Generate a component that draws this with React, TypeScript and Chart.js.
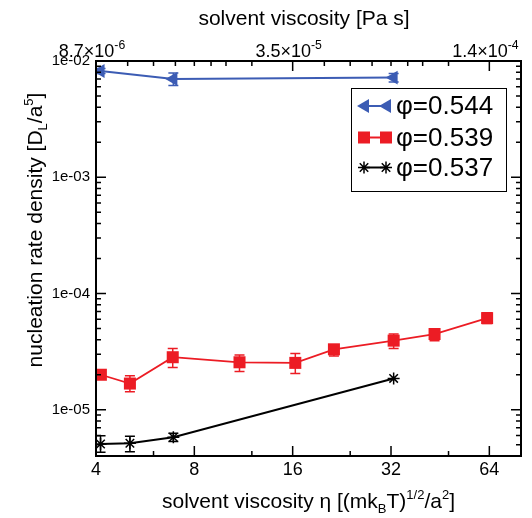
import React, { useEffect, useRef } from 'react';
import { Chart, registerables } from 'chart.js';

Chart.register(...registerables);

const FONT = '"Liberation Sans", Arial, Helvetica, sans-serif';
const BLUE = '#3c5cb4';
const RED = '#ec1c24';
const BLACK = '#000000';

// bottom axis ticks (η in (m k_B T)^{1/2}/a^2)
const xTicks = [4, 8, 16, 32, 64];
const xMinor = [6, 12, 24, 48];
// top axis (solvent viscosity, Pa s) — placed at the η positions
const topTicks = [4, 16, 64];
const topMant = ['8.7', '3.5', '1.4'];
const topExp = ['-6', '-5', '-4'];
const topMinor = [5, 6, 7, 8, 9, 10, 12, 20, 24, 28, 32, 36, 40, 48];
// y axis
const yDecades = [1e-5, 1e-4, 1e-3, 1e-2];
const yLabels = ['1e-05', '1e-04', '1e-03', '1e-02'];

// φ = 0.544
const blueX = [4.13, 6.9, 32.6];
const blueY = [8.2e-3, 7.0e-3, 7.2e-3];
const blueLo = [7.8e-3, 6.15e-3, 6.6e-3];
const blueHi = [8.6e-3, 7.9e-3, 7.8e-3];

// φ = 0.539
const redX = [4.14, 5.08, 6.87, 11.0, 16.3, 21.4, 32.6, 43.5, 63];
const redY = [2.0e-5, 1.68e-5, 2.83e-5, 2.56e-5, 2.53e-5, 3.31e-5, 3.93e-5, 4.48e-5, 6.14e-5];
const redLo = [1.9e-5, 1.43e-5, 2.31e-5, 2.13e-5, 2.05e-5, 2.9e-5, 3.36e-5, 3.93e-5, 5.53e-5];
const redHi = [2.1e-5, 1.96e-5, 3.36e-5, 2.96e-5, 3.04e-5, 3.6e-5, 4.48e-5, 4.98e-5, 6.84e-5];

// φ = 0.537
const blackX = [4.13, 5.08, 6.9, 32.6];
const blackY = [5.08e-6, 5.15e-6, 5.8e-6, 1.86e-5];
const blackLo = [4.3e-6, 4.36e-6, 5.32e-6, 1.86e-5];
const blackHi = [5.98e-6, 5.91e-6, 6.28e-6, 1.86e-5];

const legendLabels = ['φ=0.544', 'φ=0.539', 'φ=0.537'];

type Seg = { t: string; k?: 'sup' | 'sub' };

function drawRich(ctx: CanvasRenderingContext2D, segs: Seg[], x: number, y: number, size: number, align: 'center' | 'left', small = 0.62) {
  const sz = (s: Seg) => (s.k ? size * small : size);
  let w = 0;
  for (const s of segs) {
    ctx.font = `${sz(s)}px ${FONT}`;
    w += ctx.measureText(s.t).width;
  }
  let cx = align === 'center' ? x - w / 2 : x;
  ctx.textAlign = 'left';
  ctx.textBaseline = 'alphabetic';
  for (const s of segs) {
    ctx.font = `${sz(s)}px ${FONT}`;
    const dy = s.k === 'sup' ? -size * 0.42 : s.k === 'sub' ? size * 0.25 : 0;
    ctx.fillText(s.t, cx, y + dy);
    cx += ctx.measureText(s.t).width;
  }
}

function marker(ctx: CanvasRenderingContext2D, kind: string, x: number, y: number, color: string) {
  ctx.save();
  ctx.fillStyle = color;
  ctx.strokeStyle = color;
  ctx.lineWidth = 1.5;
  if (kind === 'tri') {
    const r = 8;
    ctx.beginPath();
    ctx.moveTo(x - r, y);
    ctx.lineTo(x + r / 2, y - r * 0.866);
    ctx.lineTo(x + r / 2, y + r * 0.866);
    ctx.closePath();
    ctx.fill();
  } else if (kind === 'rect') {
    ctx.fillRect(x - 6, y - 6, 12, 12);
  } else {
    const r = 6;
    ctx.beginPath();
    for (let i = 0; i < 4; i++) {
      const a = (i * Math.PI) / 4;
      ctx.moveTo(x - Math.cos(a) * r, y - Math.sin(a) * r);
      ctx.lineTo(x + Math.cos(a) * r, y + Math.sin(a) * r);
    }
    ctx.stroke();
  }
  ctx.restore();
}

const errorBarPlugin = {
  id: 'errbars',
  beforeDatasetsDraw(chart: any) {
    const ctx = chart.ctx as CanvasRenderingContext2D;
    const ys = chart.scales.y;
    chart.data.datasets.forEach((ds: any, di: number) => {
      const meta = chart.getDatasetMeta(di);
      ctx.save();
      ctx.strokeStyle = ds.borderColor;
      ctx.lineWidth = 1.5;
      meta.data.forEach((pt: any, i: number) => {
        const lo = ys.getPixelForValue(ds.errLo[i]);
        const hi = ys.getPixelForValue(ds.errHi[i]);
        if (Math.abs(lo - hi) < 1) return;
        const x = pt.x;
        ctx.beginPath();
        ctx.moveTo(x, lo);
        ctx.lineTo(x, hi);
        ctx.moveTo(x - 5, lo);
        ctx.lineTo(x + 5, lo);
        ctx.moveTo(x - 5, hi);
        ctx.lineTo(x + 5, hi);
        ctx.stroke();
      });
      ctx.restore();
    });
  },
};

const framePlugin = {
  id: 'frame',
  afterDraw(chart: any) {
    const ctx = chart.ctx as CanvasRenderingContext2D;
    const { left, right, top, bottom } = chart.chartArea;
    const xs = chart.scales.x;
    const ys = chart.scales.y;
    ctx.save();
    ctx.strokeStyle = '#000';
    ctx.lineWidth = 1.5;
    ctx.beginPath();
    // y ticks both sides
    for (let d = -6; d <= -2; d++) {
      for (let k = 1; k <= 9; k++) {
        const v = k * Math.pow(10, d);
        if (v < ys.min * 0.999 || v > ys.max * 1.001) continue;
        const py = ys.getPixelForValue(v);
        const len = k === 1 ? 10 : 5;
        ctx.moveTo(left, py);
        ctx.lineTo(left + len, py);
        ctx.moveTo(right, py);
        ctx.lineTo(right - len, py);
      }
    }
    // bottom ticks
    xTicks.forEach((v) => {
      const px = xs.getPixelForValue(v);
      ctx.moveTo(px, bottom);
      ctx.lineTo(px, bottom - 10);
    });
    xMinor.forEach((v) => {
      const px = xs.getPixelForValue(v);
      ctx.moveTo(px, bottom);
      ctx.lineTo(px, bottom - 5);
    });
    // top ticks
    topTicks.forEach((v) => {
      const px = xs.getPixelForValue(v);
      ctx.moveTo(px, top);
      ctx.lineTo(px, top + 10);
    });
    topMinor.forEach((v) => {
      const px = xs.getPixelForValue(v);
      ctx.moveTo(px, top);
      ctx.lineTo(px, top + 5);
    });
    ctx.stroke();
    ctx.lineWidth = 2;
    ctx.strokeRect(left, top, right - left, bottom - top);

    // top tick labels
    ctx.fillStyle = '#000';
    topTicks.forEach((v, i) => {
      const px = xs.getPixelForValue(v);
      drawRich(ctx, [{ t: topMant[i] + '×10' }, { t: topExp[i], k: 'sup' }], px - 4, 57, 18, 'center', 0.68);
    });

    // titles
    drawRich(ctx, [{ t: 'solvent viscosity [Pa s]' }], 304, 25, 21, 'center');
    drawRich(
      ctx,
      [
        { t: 'solvent viscosity η [(mk' },
        { t: 'B', k: 'sub' },
        { t: 'T)' },
        { t: '1/2', k: 'sup' },
        { t: '/a' },
        { t: '2', k: 'sup' },
        { t: ']' },
      ],
      (left + right) / 2,
      508,
      21,
      'center'
    );
    ctx.save();
    ctx.translate(42, 230);
    ctx.rotate(-Math.PI / 2);
    drawRich(
      ctx,
      [{ t: 'nucleation rate density [D' }, { t: 'L', k: 'sub' }, { t: '/a' }, { t: '5', k: 'sup' }, { t: ']' }],
      0,
      0,
      21,
      'center'
    );
    ctx.restore();

    // legend
    const bx = 351, by = 88, bw = 155, bh = 103;
    ctx.fillStyle = '#fff';
    ctx.fillRect(bx, by, bw, bh);
    ctx.lineWidth = 1;
    ctx.strokeStyle = '#000';
    ctx.strokeRect(bx + 0.5, by + 0.5, bw, bh);
    const rows = [106, 137.5, 167.5];
    const kinds = ['tri', 'rect', 'star'];
    const cols = [BLUE, RED, BLACK];
    rows.forEach((ry, i) => {
      ctx.save();
      ctx.strokeStyle = cols[i];
      ctx.lineWidth = 2;
      ctx.beginPath();
      ctx.moveTo(363, ry);
      ctx.lineTo(386, ry);
      ctx.stroke();
      ctx.restore();
      marker(ctx, kinds[i], i === 0 ? 365 : 364, ry, cols[i]);
      marker(ctx, kinds[i], i === 0 ? 387 : 386, ry, cols[i]);
      ctx.fillStyle = '#000';
      ctx.font = `26px ${FONT}`;
      ctx.textAlign = 'left';
      ctx.textBaseline = 'middle';
      ctx.fillText(legendLabels[i], 396, ry + 1);
    });
    ctx.restore();
  },
};

export default function App() {
  const ref = useRef<HTMLCanvasElement | null>(null);
  useEffect(() => {
    if (!ref.current) return;
    const mk = (xsArr: number[], ysArr: number[]) => xsArr.map((x, i) => ({ x, y: ysArr[i] }));
    const chart = new Chart(ref.current, {
      type: 'line',
      data: {
        datasets: [
          {
            label: legendLabels[2],
            data: mk(blackX, blackY),
            borderColor: BLACK,
            backgroundColor: BLACK,
            borderWidth: 2,
            pointStyle: 'star',
            pointRadius: 6,
            pointBorderWidth: 1.5,
            tension: 0,
            errLo: blackLo,
            errHi: blackHi,
          } as any,
          {
            label: legendLabels[1],
            data: mk(redX, redY),
            borderColor: RED,
            backgroundColor: RED,
            borderWidth: 1.8,
            pointStyle: 'rect',
            pointRadius: 8.5,
            pointBorderWidth: 0,
            tension: 0,
            errLo: redLo,
            errHi: redHi,
          } as any,
          {
            label: legendLabels[0],
            data: mk(blueX, blueY),
            borderColor: BLUE,
            backgroundColor: BLUE,
            borderWidth: 2,
            pointStyle: 'triangle',
            pointRotation: -90,
            pointRadius: 8,
            pointBorderWidth: 0,
            tension: 0,
            errLo: blueLo,
            errHi: blueHi,
          } as any,
        ],
      },
      options: {
        animation: false,
        responsive: false,
        layout: { padding: { left: 0, right: 11, top: 0, bottom: 0 } },
        plugins: { legend: { display: false }, tooltip: { enabled: false } },
        scales: {
          x: {
            type: 'logarithmic',
            position: 'bottom',
            min: 4,
            max: 80,
            afterBuildTicks: (s: any) => {
              s.ticks = xTicks.map((v) => ({ value: v }));
            },
            afterFit: (s: any) => {
              s.height = 62;
            },
            grid: { display: false, drawTicks: false },
            border: { display: false },
            ticks: {
              color: '#000',
              font: { size: 18, family: FONT },
              padding: 3,
              maxRotation: 0,
              autoSkip: false,
              callback: (_v: any, i: number) => String(xTicks[i]),
            },
          },
          x2: {
            type: 'logarithmic',
            position: 'top',
            min: 4,
            max: 80,
            grid: { display: false, drawTicks: false },
            border: { display: false },
            ticks: { display: false },
            afterFit: (s: any) => {
              s.height = 61;
            },
          },
          y: {
            type: 'logarithmic',
            min: 4e-6,
            max: 1e-2,
            afterBuildTicks: (s: any) => {
              s.ticks = yDecades.map((v) => ({ value: v }));
            },
            afterFit: (s: any) => {
              s.width = 96;
            },
            grid: { display: false, drawTicks: false },
            border: { display: false },
            ticks: {
              color: '#000',
              font: { size: 15, family: FONT },
              padding: 6,
              autoSkip: false,
              callback: (_v: any, i: number) => yLabels[i],
            },
          },
        },
      },
      plugins: [errorBarPlugin, framePlugin],
    } as any);
    return () => chart.destroy();
  }, []);
  return (
    <canvas
      ref={ref}
      width={532}
      height={518}
      style={{ position: 'absolute', left: 0, top: 0, width: 532, height: 518, display: 'block' }}
    />
  );
}
